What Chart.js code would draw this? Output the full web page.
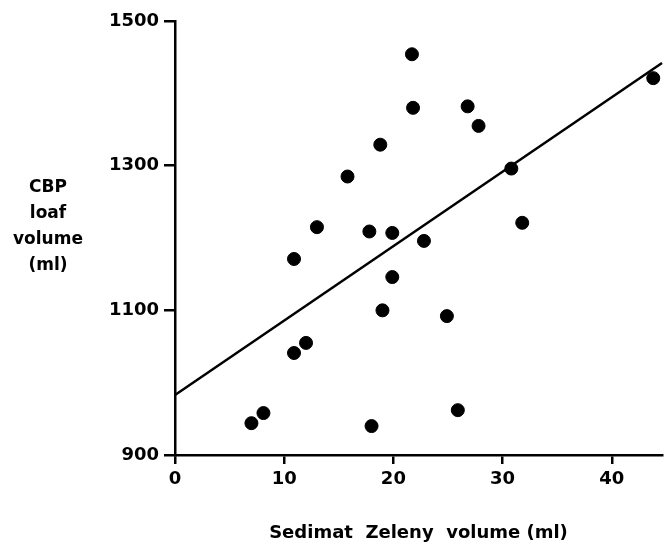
<!DOCTYPE html>
<html>
<head>
<meta charset="utf-8">
<script src="https://cdn.jsdelivr.net/npm/chart.js@4.4.1/dist/chart.umd.min.js"></script>
<style>
  html, body { margin: 0; padding: 0; background: #fff; }
  #wrap { width: 670px; height: 544px; }
</style>
</head>
<body>
<div id="wrap"><canvas id="chart"></canvas></div>
<script>
// Sedimat Zeleny volume (ml) vs CBP loaf volume (ml)
const zeleny = [7, 8.1, 10.9, 12, 10.9, 13, 15.8, 17.8, 18, 18.8, 19, 19.9, 19.9,
                21.7, 21.8, 22.8, 24.9, 25.9, 26.8, 27.8, 30.8, 31.8, 43.8];
const loafVolume = [944, 958, 1041, 1055, 1171, 1215, 1285, 1209, 940, 1329, 1100, 1207, 1146,
                    1454, 1380, 1196, 1092, 962, 1382, 1355, 1296, 1221, 1421];

// fitted line, read at its two ends
const fitX = [0, 44.6];
const fitY = [983, 1442];

const xTicks = [0, 10, 20, 30, 40];
const yTicks = [900, 1100, 1300, 1500];
const yTitleLines = ['CBP', 'loaf', 'volume', '(ml)'];
const xTitle = 'Sedimat  Zeleny  volume (ml)';

const FONT = "'DejaVu Sans', sans-serif";

const yTitlePlugin = {
  id: 'yTitle',
  afterDraw(chart) {
    const ctx = chart.ctx;
    ctx.save();
    ctx.fillStyle = '#000';
    ctx.font = 'bold 17px ' + FONT;
    ctx.textAlign = 'center';
    ctx.textBaseline = 'alphabetic';
    yTitleLines.forEach((t, i) => ctx.fillText(t, 48, 192 + i * 26));
    ctx.restore();
  }
};

new Chart(document.getElementById('chart'), {
  type: 'scatter',
  data: {
    datasets: [{
      data: zeleny.map((x, i) => ({ x, y: loafVolume[i] })),
      backgroundColor: '#000',
      borderColor: '#000',
      pointRadius: 6.5,
      pointHoverRadius: 6.5,
      clip: false
    }, {
      type: 'line',
      data: fitX.map((x, i) => ({ x, y: fitY[i] })),
      borderColor: '#000',
      borderWidth: 2.5,
      pointRadius: 0,
      fill: false,
      clip: false
    }]
  },
  options: {
    responsive: true,
    maintainAspectRatio: false,
    animation: false,
    events: [],
    layout: { padding: { left: 0, right: 8, top: 21, bottom: 0 } },
    plugins: {
      legend: { display: false },
      tooltip: { enabled: false }
    },
    scales: {
      x: {
        type: 'linear',
        min: 0,
        max: 44.6,
        afterBuildTicks: s => { s.ticks = xTicks.map(v => ({ value: v })); },
        afterFit: s => { s.height = 89; },
        grid: { drawOnChartArea: false, drawTicks: true, tickLength: 9, color: '#000', lineWidth: 2.5 },
        border: { display: true, color: '#000', width: 2.5 },
        ticks: {
          color: '#000', padding: 5, maxRotation: 0,
          font: { family: FONT, size: 18, weight: 'bold' },
          callback: v => String(v)
        },
        title: {
          display: true,
          text: xTitle,
          color: '#000',
          font: { family: FONT, size: 18, weight: 'bold' },
          padding: { top: 0, bottom: 0 }
        }
      },
      y: {
        type: 'linear',
        min: 900,
        max: 1500,
        afterBuildTicks: s => { s.ticks = yTicks.map(v => ({ value: v })); },
        afterFit: s => { s.width = 175; },
        grid: { drawOnChartArea: false, drawTicks: true, tickLength: 11, color: '#000', lineWidth: 2.5 },
        border: { display: true, color: '#000', width: 2.5 },
        ticks: {
          color: '#000', padding: 5,
          font: { family: FONT, size: 18, weight: 'bold' },
          callback: v => String(v)
        }
      }
    }
  },
  plugins: [yTitlePlugin]
});
</script>
</body>
</html>
